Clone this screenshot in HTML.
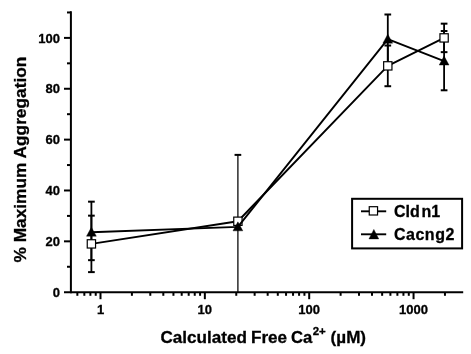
<!DOCTYPE html>
<html><head><meta charset="utf-8"><title>Aggregation chart</title>
<style>html,body{margin:0;padding:0;background:#fff}svg{display:block}text{font-family:"Liberation Sans",Arial,sans-serif;font-weight:bold;fill:#000;stroke:#000;stroke-width:0.3px}</style></head><body>
<svg width="471" height="354" viewBox="0 0 471 354">
<rect width="471" height="354" fill="#fff"/>
<g stroke="#000" stroke-width="2" fill="none" stroke-linecap="butt">
<line x1="70.9" y1="11.2" x2="70.9" y2="293.2"/>
<line x1="64" y1="292.2" x2="463.2" y2="292.2"/>
<line x1="67" y1="266.77" x2="71" y2="266.77"/>
<line x1="64" y1="241.34" x2="71" y2="241.34"/>
<line x1="67" y1="215.91" x2="71" y2="215.91"/>
<line x1="64" y1="190.48" x2="71" y2="190.48"/>
<line x1="67" y1="165.05" x2="71" y2="165.05"/>
<line x1="64" y1="139.62" x2="71" y2="139.62"/>
<line x1="67" y1="114.19" x2="71" y2="114.19"/>
<line x1="64" y1="88.76" x2="71" y2="88.76"/>
<line x1="67" y1="63.33" x2="71" y2="63.33"/>
<line x1="64" y1="37.90" x2="71" y2="37.90"/>
<line x1="67" y1="12.47" x2="71" y2="12.47"/>
<line x1="77.35" y1="292.2" x2="77.35" y2="295.8"/>
<line x1="84.34" y1="292.2" x2="84.34" y2="295.8"/>
<line x1="90.39" y1="292.2" x2="90.39" y2="295.8"/>
<line x1="95.73" y1="292.2" x2="95.73" y2="295.8"/>
<line x1="100.50" y1="292.2" x2="100.50" y2="299.2"/>
<line x1="131.91" y1="292.2" x2="131.91" y2="295.8"/>
<line x1="150.29" y1="292.2" x2="150.29" y2="295.8"/>
<line x1="163.32" y1="292.2" x2="163.32" y2="295.8"/>
<line x1="173.44" y1="292.2" x2="173.44" y2="295.8"/>
<line x1="181.70" y1="292.2" x2="181.70" y2="295.8"/>
<line x1="188.69" y1="292.2" x2="188.69" y2="295.8"/>
<line x1="194.74" y1="292.2" x2="194.74" y2="295.8"/>
<line x1="200.08" y1="292.2" x2="200.08" y2="295.8"/>
<line x1="204.85" y1="292.2" x2="204.85" y2="299.2"/>
<line x1="236.26" y1="292.2" x2="236.26" y2="295.8"/>
<line x1="254.64" y1="292.2" x2="254.64" y2="295.8"/>
<line x1="267.67" y1="292.2" x2="267.67" y2="295.8"/>
<line x1="277.79" y1="292.2" x2="277.79" y2="295.8"/>
<line x1="286.05" y1="292.2" x2="286.05" y2="295.8"/>
<line x1="293.04" y1="292.2" x2="293.04" y2="295.8"/>
<line x1="299.09" y1="292.2" x2="299.09" y2="295.8"/>
<line x1="304.43" y1="292.2" x2="304.43" y2="295.8"/>
<line x1="309.20" y1="292.2" x2="309.20" y2="299.2"/>
<line x1="340.61" y1="292.2" x2="340.61" y2="295.8"/>
<line x1="358.99" y1="292.2" x2="358.99" y2="295.8"/>
<line x1="372.02" y1="292.2" x2="372.02" y2="295.8"/>
<line x1="382.14" y1="292.2" x2="382.14" y2="295.8"/>
<line x1="390.40" y1="292.2" x2="390.40" y2="295.8"/>
<line x1="397.39" y1="292.2" x2="397.39" y2="295.8"/>
<line x1="403.44" y1="292.2" x2="403.44" y2="295.8"/>
<line x1="408.78" y1="292.2" x2="408.78" y2="295.8"/>
<line x1="413.55" y1="292.2" x2="413.55" y2="299.2"/>
<line x1="444.96" y1="292.2" x2="444.96" y2="295.8"/>
</g>
<g font-size="13">
<text x="59.9" y="296.80" text-anchor="end">0</text>
<text x="59.9" y="245.94" text-anchor="end">20</text>
<text x="59.9" y="195.08" text-anchor="end">40</text>
<text x="59.9" y="144.22" text-anchor="end">60</text>
<text x="59.9" y="93.36" text-anchor="end">80</text>
<text x="59.9" y="42.50" text-anchor="end">100</text>
<text x="100.50" y="314" text-anchor="middle">1</text>
<text x="204.85" y="314" text-anchor="middle">10</text>
<text x="309.20" y="314" text-anchor="middle">100</text>
<text x="413.55" y="314" text-anchor="middle">1000</text>
</g>
<g font-size="17.1"><text x="160.5" y="343">Calculated</text><text x="251" y="343">Free</text><text x="290.9" y="343" textLength="21.3" lengthAdjust="spacingAndGlyphs">Ca</text><text x="312.7" y="334.8" font-size="11.5">2+</text><text x="330.6" y="343">(µM)</text></g>
<text transform="translate(26,262.5) rotate(-90)" font-size="17.3">% Maximum Aggregation</text>
<g stroke="#000" stroke-width="1.25" fill="none">
<line x1="91.4" y1="215.66" x2="91.4" y2="272.11" stroke-width="1.8"/>
<line x1="88.05000000000001" y1="215.66" x2="94.75" y2="215.66" stroke-width="2"/>
<line x1="88.05000000000001" y1="272.11" x2="94.75" y2="272.11" stroke-width="2"/>
<line x1="237.9" y1="154.88" x2="237.9" y2="292.20" stroke-width="1.25"/>
<line x1="234.55" y1="154.88" x2="241.25" y2="154.88" stroke-width="2"/>
<line x1="387.8" y1="45.53" x2="387.8" y2="86.22" stroke-width="1.8"/>
<line x1="384.45" y1="45.53" x2="391.15000000000003" y2="45.53" stroke-width="2"/>
<line x1="384.45" y1="86.22" x2="391.15000000000003" y2="86.22" stroke-width="2"/>
<line x1="444.1" y1="23.66" x2="444.1" y2="52.14" stroke-width="1.8"/>
<line x1="440.75" y1="23.66" x2="447.45000000000005" y2="23.66" stroke-width="2"/>
<line x1="440.75" y1="52.14" x2="447.45000000000005" y2="52.14" stroke-width="2"/>
<line x1="91.4" y1="201.67" x2="91.4" y2="260.16" stroke-width="1.8"/>
<line x1="88.05000000000001" y1="201.67" x2="94.75" y2="201.67" stroke-width="2"/>
<line x1="88.05000000000001" y1="260.16" x2="94.75" y2="260.16" stroke-width="2"/>
<line x1="387.8" y1="14.50" x2="387.8" y2="63.84" stroke-width="1.8"/>
<line x1="384.45" y1="14.50" x2="391.15000000000003" y2="14.50" stroke-width="2"/>
<line x1="384.45" y1="63.84" x2="391.15000000000003" y2="63.84" stroke-width="2"/>
<line x1="444.1" y1="31.03" x2="444.1" y2="90.29" stroke-width="1.8"/>
<line x1="440.75" y1="31.03" x2="447.45000000000005" y2="31.03" stroke-width="2"/>
<line x1="440.75" y1="90.29" x2="447.45000000000005" y2="90.29" stroke-width="2"/>
</g>
<polyline stroke="#000" stroke-width="1.9" fill="none" stroke-linejoin="round" points="91.4,243.88 237.9,221.25 387.8,65.87 444.1,37.90"/>
<rect x="87.25" y="239.73" width="8.3" height="8.3" fill="#fff" stroke="#000" stroke-width="1.2"/>
<rect x="233.75" y="217.10" width="8.3" height="8.3" fill="#fff" stroke="#000" stroke-width="1.2"/>
<rect x="383.65" y="61.72" width="8.3" height="8.3" fill="#fff" stroke="#000" stroke-width="1.2"/>
<rect x="439.95" y="33.75" width="8.3" height="8.3" fill="#fff" stroke="#000" stroke-width="1.2"/>
<polyline stroke="#000" stroke-width="1.9" fill="none" stroke-linejoin="round" points="91.4,232.19 237.9,226.84 387.8,39.17 444.1,61.04"/>
<polygon points="91.4,227.19 96.30000000000001,236.19 86.5,236.19" fill="#000" stroke="#000" stroke-width="0.4"/>
<polygon points="237.9,221.84 242.8,230.84 233.0,230.84" fill="#000" stroke="#000" stroke-width="0.4"/>
<polygon points="387.8,34.17 392.7,43.17 382.90000000000003,43.17" fill="#000" stroke="#000" stroke-width="0.4"/>
<polygon points="444.1,56.04 449.0,65.04 439.20000000000005,65.04" fill="#000" stroke="#000" stroke-width="0.4"/>
<rect x="352.1" y="198.8" width="110" height="49.6" fill="#fff" stroke="#000" stroke-width="2"/>
<line x1="361" y1="211.3" x2="386.2" y2="211.3" stroke="#000" stroke-width="1.9"/>
<rect x="369.25" y="206.7" width="8.3" height="8.3" fill="#fff" stroke="#000" stroke-width="1.2"/>
<line x1="361" y1="234.3" x2="386.2" y2="234.3" stroke="#000" stroke-width="1.9"/>
<polygon points="373.85,229.4 378.75,238.9 368.95,238.9" fill="#000" stroke="#000" stroke-width="0.4"/>
<text x="394" y="217" font-size="16">Cld<tspan dx="1.6">n1</tspan></text>
<text x="394" y="239.8" font-size="16" letter-spacing="0.5">Cacng2</text>
</svg></body></html>
